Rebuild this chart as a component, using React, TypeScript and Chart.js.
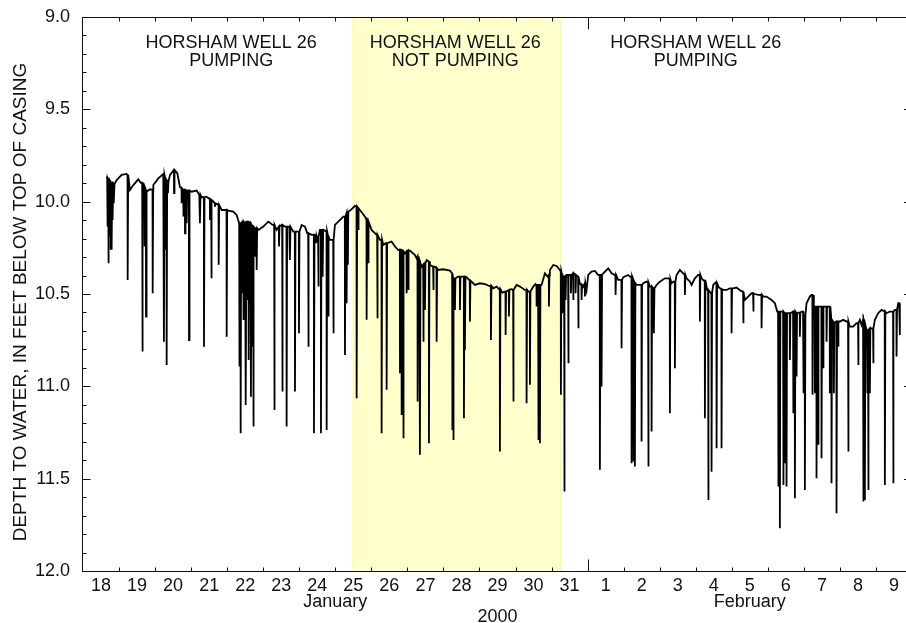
import React, { useEffect, useRef } from "react";
import { Chart, registerables } from "chart.js";

Chart.register(...registerables);

// ---- Axis labels ----
const dayTickLabels = [
  "18", "19", "20", "21", "22", "23", "24", "25", "26", "27", "28", "29", "30", "31",
  "1", "2", "3", "4", "5", "6", "7", "8", "9",
];
// day numbering: January day number (Feb 1 = 32)
const axisStartDay = 18;
const axisEndDay = 41;
const monthBoundaryDay = 32;
const yMajorTicks = [9.0, 9.5, 10.0, 10.5, 11.0, 11.5, 12.0];
const monthLabels = ["January", "February"];
const monthLabelDay = [25, 36.5];
const yearLabel = "2000";
const yTitle = "DEPTH TO WATER, IN FEET BELOW TOP OF CASING";
const periodLine1 = ["HORSHAM WELL 26", "HORSHAM WELL 26", "HORSHAM WELL 26"];
const periodLine2 = ["PUMPING", "NOT PUMPING", "PUMPING"];
const periodLabelDay = [22.11, 28.33, 35.0];
const notPumpingStart = 25.48;
const notPumpingEnd = 31.26;

// ---- Baseline (recovered) water level ----
const baseDay = [
  18.657, 18.842, 18.934, 19.073, 19.211, 19.304, 19.396, 19.535, 19.6, 19.674,
  19.766, 19.858, 19.951, 20.09, 20.228, 20.321, 20.413, 20.524, 20.617, 20.691,
  20.783, 20.876, 21.014, 21.153, 21.227, 21.292, 21.43, 21.523, 21.615, 21.708,
  21.846, 22.032, 22.17, 22.263, 22.337, 22.5, 22.7, 22.864, 23.002, 23.141,
  23.261, 23.372, 23.511, 23.603, 23.724, 23.834, 23.945, 24.066, 24.158, 24.223,
  24.343, 24.482, 24.574, 24.713, 24.852, 24.99, 25.083, 25.222, 25.36, 25.453,
  25.545, 25.684, 25.823, 26.007, 26.146, 26.239, 26.331, 26.396, 26.562, 26.655,
  26.747, 26.932, 27.071, 27.21, 27.256, 27.395, 27.533, 27.626, 27.764, 27.857,
  27.996, 28.18, 28.245, 28.319, 28.411, 28.504, 28.643, 28.735, 28.874, 29.012,
  29.151, 29.262, 29.382, 29.475, 29.54, 29.632, 29.78, 29.891, 30.03, 30.122,
  30.261, 30.353, 30.492, 30.556, 30.723, 30.815, 30.889, 30.954, 31.047, 31.139,
  31.232, 31.324, 31.417, 31.509, 31.601, 31.694, 31.787, 31.879, 31.971, 32.018,
  32.11, 32.203, 32.295, 32.434, 32.572, 32.665, 32.757, 32.85, 32.989, 33.127,
  33.173, 33.358, 33.451, 33.543, 33.636, 33.728, 33.821, 33.913, 34.006, 34.144,
  34.237, 34.329, 34.375, 34.468, 34.56, 34.653, 34.745, 34.838, 34.884, 34.976,
  35.069, 35.161, 35.226, 35.319, 35.411, 35.485, 35.55, 35.642, 35.762, 35.855,
  35.947, 36.04, 36.132, 36.243, 36.363, 36.456, 36.548, 36.641, 36.733, 36.872,
  36.964, 37.103, 37.196, 37.26, 37.381, 37.501, 37.612, 37.704, 37.843, 37.935,
  38.0, 38.074, 38.166, 38.213, 38.277, 38.444, 38.583, 38.675, 38.721, 38.832,
  38.999, 39.091, 39.184, 39.276, 39.369, 39.461, 39.554, 39.6, 39.738, 39.877,
  39.97, 40.062, 40.154, 40.293, 40.386, 40.524, 40.617, 40.645, 40.663,
];
const baseDepth = [
  9.864, 9.901, 9.883, 9.855, 9.85, 9.937, 9.91, 9.879, 9.897, 9.904,
  9.946, 9.933, 9.91, 9.874, 9.85, 9.901, 9.855, 9.825, 9.846, 9.922,
  9.937, 9.94, 9.946, 9.94, 9.964, 9.976, 9.973, 9.987, 9.999, 10.012,
  10.045, 10.049, 10.054, 10.072, 10.117, 10.11, 10.135, 10.153, 10.135, 10.108,
  10.126, 10.153, 10.126, 10.135, 10.135, 10.162, 10.162, 10.126, 10.135, 10.171,
  10.18, 10.189, 10.153, 10.157, 10.207, 10.126, 10.108, 10.081, 10.054, 10.041,
  10.023, 10.045, 10.081, 10.153, 10.18, 10.207, 10.234, 10.225, 10.216, 10.243,
  10.262, 10.28, 10.265, 10.289, 10.307, 10.352, 10.316, 10.343, 10.352, 10.37,
  10.366, 10.373, 10.415, 10.415, 10.406, 10.406, 10.409, 10.433, 10.451, 10.442,
  10.446, 10.456, 10.469, 10.46, 10.474, 10.493, 10.482, 10.474, 10.451, 10.46,
  10.478, 10.487, 10.46, 10.446, 10.451, 10.388, 10.406, 10.37, 10.343, 10.348,
  10.37, 10.406, 10.397, 10.397, 10.379, 10.397, 10.446, 10.46, 10.478, 10.397,
  10.379, 10.375, 10.397, 10.388, 10.361, 10.388, 10.397, 10.424, 10.409, 10.397,
  10.406, 10.451, 10.451, 10.442, 10.433, 10.46, 10.469, 10.451, 10.433, 10.415,
  10.415, 10.442, 10.433, 10.397, 10.37, 10.388, 10.415, 10.433, 10.451, 10.415,
  10.397, 10.415, 10.428, 10.478, 10.493, 10.451, 10.438, 10.464, 10.478, 10.478,
  10.469, 10.469, 10.465, 10.482, 10.532, 10.514, 10.496, 10.5, 10.505, 10.514,
  10.514, 10.532, 10.55, 10.595, 10.595, 10.604, 10.604, 10.595, 10.601, 10.595,
  10.619, 10.55, 10.514, 10.505, 10.568, 10.568, 10.568, 10.568, 10.64, 10.655,
  10.649, 10.64, 10.649, 10.677, 10.677, 10.658, 10.64, 10.668, 10.695, 10.686,
  10.64, 10.604, 10.586, 10.604, 10.595, 10.586, 10.55, 10.55, 10.722,
];

// ---- Pumping drawdown spikes ----
const spikeDay = [
  18.675, 18.703, 18.731, 18.768, 18.796, 18.823, 18.86, 19.239, 19.646, 19.702,
  19.748, 19.933, 20.247, 20.284, 20.321, 20.358, 20.525, 20.737, 20.784, 20.83,
  20.876, 20.941, 21.246, 21.357, 21.523, 21.56, 21.662, 21.764, 21.986, 22.337,
  22.374, 22.411, 22.448, 22.485, 22.522, 22.559, 22.596, 22.633, 22.661, 22.698,
  22.725, 22.772, 22.818, 23.307, 23.437, 23.529, 23.649, 23.742, 23.881, 23.992,
  24.251, 24.408, 24.463, 24.528, 24.602, 24.649, 24.76, 24.806, 24.945, 25.268,
  25.314, 25.351, 25.592, 25.638, 25.869, 25.915, 26.165, 26.285, 26.424, 26.794,
  26.84, 26.886, 26.979, 27.025, 27.284, 27.321, 27.349, 27.441, 27.487, 27.598,
  27.718, 27.811, 28.245, 28.273, 28.319, 28.458, 28.569, 28.597, 28.735, 29.318,
  29.567, 29.725, 29.817, 29.937, 30.307, 30.4, 30.585, 30.631, 30.677, 30.927,
  31.259, 31.296, 31.352, 31.389, 31.463, 31.537, 31.601, 31.666, 31.74, 31.833,
  31.925, 32.341, 32.387, 32.776, 32.942, 33.22, 33.266, 33.312, 33.497, 33.682,
  33.775, 33.84, 34.283, 34.422, 34.699, 35.115, 35.254, 35.346, 35.439, 35.578,
  35.716, 35.994, 36.317, 36.595, 36.826, 37.288, 37.334, 37.427, 37.473, 37.519,
  37.612, 37.704, 37.751, 37.797, 37.889, 37.981, 38.028, 38.24, 38.305, 38.351,
  38.398, 38.49, 38.536, 38.629, 38.721, 38.767, 38.832, 38.906, 38.952, 39.23,
  39.507, 39.646, 39.692, 39.757, 39.785, 39.831, 39.923, 40.247, 40.478, 40.571,
];
const spikeTop = [
  9.873, 9.882, 9.882, 9.891, 9.891, 9.897, 9.904, 9.855, 9.9, 9.918,
  9.936, 9.936, 9.855, 9.873, 9.882, 9.891, 9.828, 9.928, 9.936, 9.936,
  9.94, 9.94, 9.963, 9.976, 9.987, 9.991, 10.009, 10.018, 10.045, 10.117,
  10.117, 10.108, 10.108, 10.117, 10.108, 10.108, 10.108, 10.117, 10.126, 10.135,
  10.135, 10.144, 10.144, 10.126, 10.135, 10.126, 10.135, 10.135, 10.162, 10.162,
  10.171, 10.18, 10.185, 10.189, 10.153, 10.153, 10.162, 10.189, 10.207, 10.081,
  10.063, 10.054, 10.027, 10.036, 10.099, 10.108, 10.18, 10.207, 10.225, 10.261,
  10.265, 10.27, 10.27, 10.265, 10.297, 10.315, 10.333, 10.342, 10.333, 10.324,
  10.352, 10.361, 10.388, 10.415, 10.415, 10.406, 10.406, 10.406, 10.427, 10.456,
  10.474, 10.487, 10.478, 10.478, 10.478, 10.487, 10.451, 10.451, 10.451, 10.397,
  10.379, 10.397, 10.406, 10.402, 10.397, 10.397, 10.388, 10.397, 10.406, 10.451,
  10.442, 10.397, 10.397, 10.397, 10.424, 10.406, 10.424, 10.442, 10.451, 10.438,
  10.46, 10.469, 10.42, 10.433, 10.397, 10.397, 10.427, 10.478, 10.492, 10.442,
  10.474, 10.469, 10.487, 10.496, 10.505, 10.595, 10.595, 10.595, 10.604, 10.604,
  10.604, 10.595, 10.595, 10.604, 10.601, 10.595, 10.619, 10.505, 10.568, 10.568,
  10.568, 10.568, 10.568, 10.568, 10.568, 10.64, 10.655, 10.649, 10.649, 10.649,
  10.658, 10.64, 10.668, 10.695, 10.695, 10.686, 10.686, 10.595, 10.595, 10.586,
];
const spikeBottom = [
  10.135, 10.333, 10.189, 10.261, 10.261, 10.099, 10.009, 10.424, 10.812, 10.243,
  10.622, 10.496, 10.758, 10.261, 10.884, 9.954, 9.954, 10.009, 10.081, 10.171,
  10.117, 10.749, 10.117, 10.785, 10.099, 10.415, 10.027, 10.342, 10.731, 10.893,
  11.254, 10.496, 10.641, 10.496, 11.101, 10.532, 10.857, 10.496, 11.056, 10.785,
  11.218, 10.298, 10.37, 11.128, 10.243, 11.028, 11.218, 10.316, 11.028, 10.713,
  10.785, 11.254, 10.225, 10.46, 11.254, 10.406, 11.236, 10.622, 10.713, 10.83,
  10.55, 10.342, 11.065, 10.153, 10.64, 10.333, 10.631, 11.254, 11.019, 10.929,
  11.155, 11.281, 10.496, 10.478, 11.082, 10.586, 11.371, 10.758, 10.586, 11.308,
  10.478, 10.758, 11.236, 11.29, 10.586, 10.586, 11.173, 10.803, 10.649, 10.749,
  11.353, 10.722, 10.622, 11.082, 11.091, 10.992, 10.568, 11.29, 11.308, 10.568,
  11.046, 10.604, 11.57, 10.532, 10.875, 10.496, 10.532, 10.496, 10.686, 10.532,
  10.514, 11.452, 11.001, 10.505, 10.794, 11.416, 11.407, 11.434, 11.299, 11.434,
  11.245, 10.713, 11.146, 10.902, 10.505, 10.649, 11.173, 11.615, 11.462, 11.335,
  11.335, 10.713, 10.658, 10.595, 10.686, 11.543, 11.768, 11.534, 11.416, 11.543,
  10.857, 11.146, 11.606, 10.947, 10.731, 11.037, 11.561, 11.046, 11.037, 11.498,
  11.317, 11.389, 10.902, 10.758, 11.037, 11.525, 11.037, 11.687, 10.785, 11.353,
  10.884, 11.624, 11.615, 11.037, 11.561, 11.037, 10.875, 11.534, 11.525, 10.839,
];

const FONT = "'Liberation Sans', Arial, Helvetica, sans-serif";

function buildSeries() {
  const pts: { x: number; y: number }[] = [];
  baseDay.forEach((d, i) => pts.push({ x: d, y: baseDepth[i] }));
  spikeDay.forEach((d, i) => {
    pts.push({ x: d - 0.004, y: spikeTop[i] });
    pts.push({ x: d, y: spikeBottom[i] });
    pts.push({ x: d + 0.014, y: spikeTop[i] });
  });
  pts.sort((a, b) => a.x - b.x);
  return pts;
}

const decorPlugin = {
  id: "decor",
  beforeDatasetsDraw(chart: any) {
    const { ctx, chartArea, scales } = chart;
    const x = scales.x;
    const x0 = x.getPixelForValue(notPumpingStart);
    const x1 = x.getPixelForValue(notPumpingEnd);
    ctx.save();
    ctx.fillStyle = "#FFFFCC";
    ctx.fillRect(x0, chartArea.top, x1 - x0, chartArea.bottom - chartArea.top);
    ctx.strokeStyle = "#FFFF88";
    ctx.lineWidth = 1;
    ctx.beginPath();
    ctx.moveTo(Math.round(x0) + 0.5, chartArea.top);
    ctx.lineTo(Math.round(x0) + 0.5, chartArea.bottom);
    ctx.moveTo(Math.round(x1) - 0.5, chartArea.top);
    ctx.lineTo(Math.round(x1) - 0.5, chartArea.bottom);
    ctx.stroke();
    ctx.restore();
  },
  afterDatasetsDraw(chart: any) {
    const { ctx, chartArea, scales } = chart;
    const { left, right, top, bottom } = chartArea;
    const x = scales.x;
    const y = scales.y;
    ctx.save();
    ctx.strokeStyle = "#111";
    ctx.lineWidth = 1;
    ctx.beginPath();
    // frame
    ctx.moveTo(left - 0.5, top + 0.5);
    ctx.lineTo(right, top + 0.5);
    ctx.moveTo(left - 0.5, top);
    ctx.lineTo(left - 0.5, bottom + 1);
    ctx.moveTo(left - 0.5, bottom + 0.5);
    ctx.lineTo(right, bottom + 0.5);
    // day boundary ticks
    for (let d = axisStartDay + 1; d < axisEndDay; d++) {
      const px = Math.round(x.getPixelForValue(d)) + 0.5;
      const len = d === monthBoundaryDay ? 12 : 4;
      ctx.moveTo(px, bottom + 0.5);
      ctx.lineTo(px, bottom + 0.5 - len);
      ctx.moveTo(px, top + 0.5);
      ctx.lineTo(px, top + 0.5 + len);
    }
    // depth ticks
    for (let k = 1; k < 30; k++) {
      const v = 9 + k / 10;
      const py = Math.round(y.getPixelForValue(v)) + 0.5;
      const major = k % 5 === 0;
      ctx.moveTo(left - 0.5, py);
      ctx.lineTo(left - 0.5 + (major ? 8 : 4), py);
      ctx.moveTo(right, py);
      ctx.lineTo(right - (major ? 8 : 4), py);
    }
    ctx.stroke();

    ctx.fillStyle = "#111";
    ctx.font = `18px ${FONT}`;
    ctx.textAlign = "center";
    ctx.textBaseline = "alphabetic";
    periodLabelDay.forEach((d, i) => {
      const px = x.getPixelForValue(d);
      ctx.fillText(periodLine1[i], px, 48);
      ctx.fillText(periodLine2[i], px, 66);
    });
    monthLabelDay.forEach((d, i) => {
      ctx.fillText(monthLabels[i], x.getPixelForValue(d), 607);
    });
    ctx.fillText(yearLabel, x.getPixelForValue((axisStartDay + axisEndDay) / 2), 622);

    ctx.font = `19px ${FONT}`;
    ctx.translate(26, 302);
    ctx.rotate(-Math.PI / 2);
    ctx.fillText(yTitle, 0, 0);
    ctx.restore();
  },
};

export default function App() {
  const ref = useRef<HTMLCanvasElement | null>(null);
  useEffect(() => {
    if (!ref.current) return;
    const dayCenters = dayTickLabels.map((_, i) => axisStartDay + i + 0.5);
    const chart = new Chart(ref.current, {
      type: "line",
      data: {
        datasets: [
          {
            data: buildSeries(),
            borderColor: "#000",
            borderWidth: 1.8,
            pointRadius: 0,
            tension: 0,
            fill: false,
          },
        ],
      },
      options: {
        animation: false,
        responsive: false,
        events: [],
        layout: { padding: { top: 17, left: 0, right: 0, bottom: 0 } },
        plugins: { legend: { display: false }, tooltip: { enabled: false } },
        scales: {
          x: {
            type: "linear",
            min: axisStartDay,
            max: axisEndDay,
            grid: { display: false, drawTicks: false },
            border: { display: false },
            afterBuildTicks: (s: any) => {
              s.ticks = dayCenters.map((v) => ({ value: v }));
            },
            afterFit: (s: any) => {
              s.height = 52;
              s.paddingLeft = 0;
              s.paddingRight = 0;
            },
            ticks: {
              autoSkip: false,
              maxRotation: 0,
              padding: 4,
              color: "#111",
              font: { family: FONT, size: 18 },
              callback: (_v: any, i: number) => dayTickLabels[i],
            },
          },
          y: {
            type: "linear",
            reverse: true,
            min: yMajorTicks[0],
            max: yMajorTicks[yMajorTicks.length - 1],
            grid: { display: false, drawTicks: false },
            border: { display: false },
            afterFit: (s: any) => {
              s.width = 83;
              s.paddingTop = 0;
              s.paddingBottom = 0;
            },
            afterBuildTicks: (s: any) => {
              s.ticks = yMajorTicks.map((v) => ({ value: v }));
            },
            ticks: {
              padding: 13,
              color: "#111",
              font: { family: FONT, size: 18 },
              callback: (v: any) => Number(v).toFixed(1),
            },
          },
        },
      },
      plugins: [decorPlugin],
    });
    return () => chart.destroy();
  }, []);

  return (
    <div style={{ position: "fixed", left: 0, top: 0, width: 912, height: 623, background: "#fff" }}>
      <canvas ref={ref} width={912} height={623} style={{ display: "block" }} />
    </div>
  );
}
